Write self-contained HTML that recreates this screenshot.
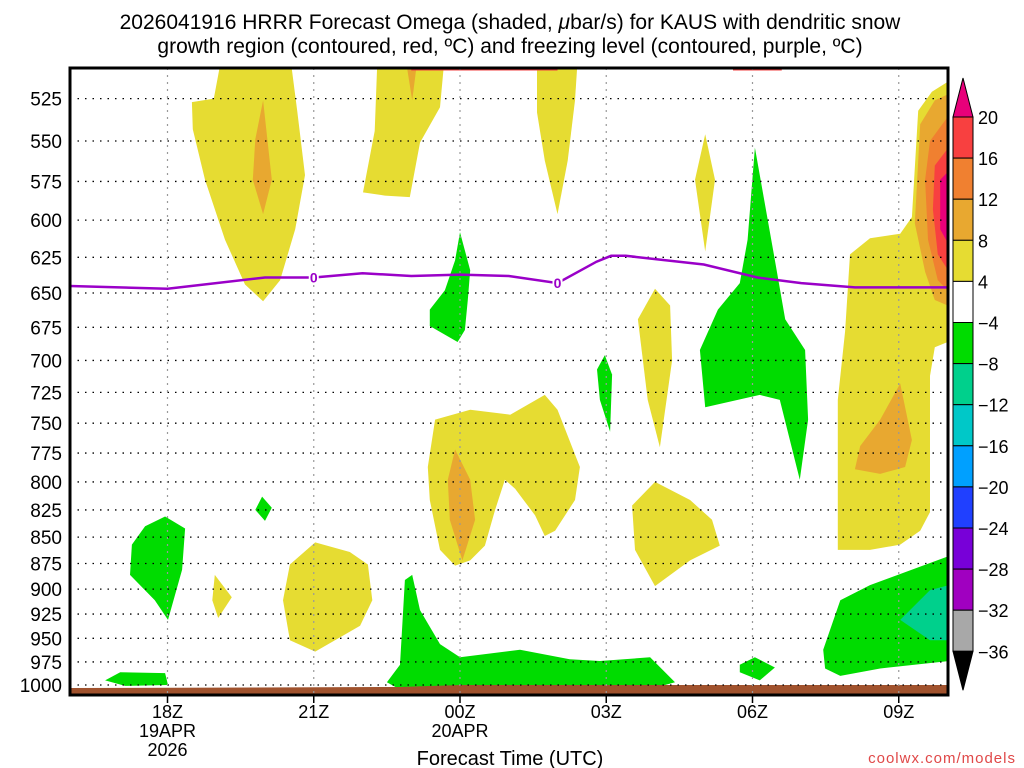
<!DOCTYPE html>
<html><head><meta charset="utf-8"><style>
html,body{margin:0;padding:0;background:#fff;}
svg{display:block;font-family:"Liberation Sans","DejaVu Sans",sans-serif;}
</style></head><body>
<svg id="chart" width="1024" height="768" viewBox="0 0 1024 768" xmlns="http://www.w3.org/2000/svg">
<text x="510" y="29" font-size="21" text-anchor="middle" fill="#000">2026041916 HRRR Forecast Omega (shaded, <tspan font-style="italic">μ</tspan>bar/s) for KAUS with dendritic snow</text>
<text x="510" y="53" font-size="21" text-anchor="middle" fill="#000">growth region (contoured, red, ºC) and freezing level (contoured, purple, ºC)</text>
<defs><clipPath id="plotclip"><rect x="70" y="68" width="878" height="627"/></clipPath></defs>
<g id="fills" clip-path="url(#plotclip)"></g>
<g id="grid"></g>
<g id="fz" clip-path="url(#plotclip)"></g>
<rect x="70" y="68" width="878" height="627" fill="none" stroke="#000" stroke-width="3"/>
<g id="axes"></g>
<g id="cbar"></g>
<text x="510" y="765" font-size="20" text-anchor="middle">Forecast Time (UTC)</text>
<text x="1016" y="763" font-size="15" text-anchor="end" fill="#e04848" letter-spacing="1">coolwx.com/models</text>
</svg>
<script>
// axis data
const pTicks = [525,550,575,600,625,650,675,700,725,750,775,800,825,850,875,900,925,950,975,1000];
const tTicks = [2,5,8,11,14,17];
const tLabels = [["18Z","19APR","2026"],["21Z"],["00Z","20APR"],["03Z"],["06Z"],["09Z"]];
// freezing level (hours since 16Z, hPa)
const fzHours = [0,2,4,5,6,7,8,9,10,10.8,11.1,11.4,13,14.1,15,16.1,18];
const fzPres  = [645,647,639,639,636,638,637,638,643,628,624,624,630,639,643,646,646];
const fzLabelHours = [5,10];
// colorbar
const cbLevels = [20,16,12,8,4,-4,-8,-12,-16,-20,-24,-28,-32,-36];
const cbColors = ["#f84040","#f08030","#e8a830","#e6dc32","#ffffff","#00dc00","#00d08c","#00c8c8","#00a0ff","#2040ff","#7800d8","#a000c0","#a8a8a8"];
// shaded omega regions: [hour, pressure] polygons
const yellowRegions = [
 [[2.5,527],[2.95,525],[3.12,500],[4.51,500],[4.66,532],[4.82,571],[4.62,606],[4.31,641],[3.96,656],[3.59,644],[3.18,613],[2.77,574],[2.52,543]],
 [[6.01,582],[6.25,544],[6.31,500],[7.69,500],[7.59,530],[7.18,551],[6.97,585],[6.46,584]],
 [[9.58,500],[10.42,500],[10.36,526],[10.21,562],[10.0,596],[9.74,562],[9.58,533]],
 [[13.03,546],[13.23,574],[13.03,621],[12.82,574]],
 [[16.0,623],[16.41,612],[17.03,609],[17.27,598],[17.4,532],[17.68,521],[18.2,512],[18.2,683],[17.74,690],[17.64,712],[17.64,827],[17.44,844],[17.03,857],[16.41,862],[15.75,862],[15.75,731],[15.9,678]],
 [[12.0,647],[12.31,659],[12.35,700],[12.1,770],[11.85,731],[11.65,669]],
 [[7.34,787],[7.49,747],[8.21,739],[9.03,743],[9.74,727],[10.0,739],[10.46,787],[10.36,816],[9.95,844],[9.74,849],[9.54,830],[9.13,806],[8.92,798],[8.72,825],[8.51,858],[8.21,872],[7.9,877],[7.59,862],[7.38,816]],
 [[12.0,800],[12.72,816],[13.17,834],[13.33,858],[12.72,872],[12.0,897],[11.59,862],[11.53,821]],
 [[5.03,855],[5.74,864],[6.11,876],[6.2,911],[5.95,937],[5.03,964],[4.51,952],[4.37,911],[4.51,876]],
 [[2.97,886],[3.32,908],[3.04,929],[2.92,911]]
];
const orangeRegions = [
 [[3.96,526],[4.14,574],[3.96,596],[3.75,574],[3.8,549]],
 [[6.87,500],[7.14,500],[7.02,526]],
 [[17.44,540],[17.74,526],[18.2,520],[18.2,662],[17.74,655],[17.54,635],[17.33,602]],
 [[17.03,718],[17.27,764],[17.13,787],[16.62,793],[16.1,789],[16.21,769],[16.62,747]],
 [[7.9,772],[8.21,798],[8.31,834],[8.05,872],[7.79,834],[7.75,798]]
];
const orange12Regions = [[[17.64,550],[18.2,528],[18.2,655],[17.8,641],[17.6,613],[17.54,574]]];
const redRegions = [[[17.74,565],[18.2,547],[18.2,644],[17.8,623],[17.7,593]]];
const magentaRegions = [[[17.85,574],[18.2,563],[18.2,627],[17.85,606]]];
const greenRegions = [
 [[1.54,840],[1.95,831],[2.36,842],[2.3,881],[2.01,931],[1.74,911],[1.23,886],[1.27,857]],
 [[3.94,813],[4.14,823],[4.0,835],[3.8,825]],
 [[8.0,608],[8.21,634],[8.16,655],[8.1,677],[7.95,686],[7.38,674],[7.38,662],[7.69,648],[7.9,627]],
 [[10.97,696],[11.12,711],[11.08,757],[10.87,731],[10.81,707]],
 [[14.05,554],[14.46,627],[14.67,669],[15.08,692],[15.14,747],[14.97,798],[14.56,731],[14.15,727],[13.03,737],[12.92,692],[13.29,662],[13.74,643],[13.9,613]],
 [[6.5,997],[6.77,978],[6.87,891],[7.02,886],[7.18,921],[7.59,956],[8.0,970],[9.23,962],[10.25,972],[10.87,974],[11.9,970],[12.41,997],[12.0,1003],[6.77,1005]],
 [[0.72,995],[1.03,986],[1.95,987],[2.01,1000],[1.13,1001]],
 [[13.74,978],[14.05,970],[14.46,981],[14.15,995],[13.74,986]],
 [[15.45,962],[15.8,911],[16.41,896],[18.2,865],[18.2,973],[16.62,982],[15.8,990],[15.49,982]]
];
const tealRegions = [[[17.03,931],[17.64,901],[18.2,894],[18.2,952],[17.64,952]]];
const dgzHours = [[7.0,10.0],[13.6,14.6]];

const NS="http://www.w3.org/2000/svg";
const X0=70,PX=48.75,YB=685,YS=910;
function xS(h){return X0+h*PX;}
function yS(p){return YB-YS*Math.log(1000/p);}
function mk(tag,attrs,parent){const e=document.createElementNS(NS,tag);for(const k in attrs)e.setAttribute(k,attrs[k]);parent.appendChild(e);return e;}
const fills=document.getElementById('fills');
function drawRegions(list,color,name){
 list.forEach(poly=>{
  const e=mk('polygon',{points:poly.map(q=>xS(q[0]).toFixed(1)+','+yS(q[1]).toFixed(1)).join(' '),fill:color},fills);
  
  
 });
}
drawRegions(yellowRegions,"#e6dc32","omega-4-8-region");
drawRegions(orangeRegions,"#e8a830","omega-8-12-region");
drawRegions(orange12Regions,"#f08030","omega-12-16-region");
drawRegions(redRegions,"#f84040","omega-16-20-region");
drawRegions(magentaRegions,"#e8007a","omega-20-plus-region");
drawRegions(greenRegions,"#00dc00","omega-neg4-neg8-region");
drawRegions(tealRegions,"#00d08c","omega-neg8-neg12-region");
dgzHours.forEach(d=>{
 const e=mk('line',{x1:xS(d[0]),x2:xS(d[1]),y1:69,y2:69,stroke:"#f04040","stroke-width":3},fills);
 
 
});
const ground=mk('polygon',{points:"70,688 400,687 460,685 948,685 948,695 70,695",fill:"#a0522d"},fills);



const grid=document.getElementById('grid'),axes=document.getElementById('axes');
pTicks.forEach(p=>{
 const y=yS(p);
 const l=mk('line',{x1:70,x2:948,y1:y,y2:y,stroke:"#000","stroke-width":1.3,"stroke-dasharray":"1.5 6"},grid);
 
 
 const t=mk('text',{x:62,y:y+7,"font-size":19,"text-anchor":"end"},axes);
 t.textContent=p;
 
 
});
tTicks.forEach((h,i)=>{
 const x=xS(h);
 const l=mk('line',{x1:x,x2:x,y1:68,y2:695,stroke:"#999","stroke-width":1.2,"stroke-dasharray":"2 5"},grid);
 
 
 const tk=mk('line',{x1:x,x2:x,y1:695,y2:703,stroke:"#000","stroke-width":1.5},axes);
 
 
 tLabels[i].forEach((s,j)=>{
  const t=mk('text',{x:x,y:718+j*19,"font-size":18,"text-anchor":"middle"},axes);
  t.textContent=s;
  
  
 });
});
const fz=document.getElementById('fz');
const pl=mk('polyline',{points:fzHours.map((h,i)=>xS(h).toFixed(1)+','+yS(fzPres[i]).toFixed(1)).join(' '),fill:"none",stroke:"#9a00c8","stroke-width":2.5},fz);


fzLabelHours.forEach(h=>{
 let i=0;while(i<fzHours.length-2&&fzHours[i+1]<h)i++;
 const f=(h-fzHours[i])/(fzHours[i+1]-fzHours[i]);
 const p=fzPres[i]+f*(fzPres[i+1]-fzPres[i]);
 const x=xS(h),y=yS(p);
 const r=mk('rect',{x:x-5,y:y-7,width:10,height:14,fill:"#fff"},fz);
 
 
 const t=mk('text',{x:x,y:y+5,"font-size":14,"font-weight":"bold","text-anchor":"middle",fill:"#9a00c8"},fz);
 t.textContent="0";
 
 
});
const cb=document.getElementById('cbar');
const CX=953,CW=20,CT=117,CH=41.1;
const cbTop=mk('polygon',{points:`${CX},${CT} ${CX+CW},${CT} ${CX+CW/2},${CT-39}`,fill:"#e8007a",stroke:"#000"},cb);


cbColors.forEach((c,i)=>{
 const r=mk('rect',{x:CX,y:CT+i*CH,width:CW,height:CH,fill:c,stroke:"#000","stroke-width":1},cb);
 
 
});
const yb=CT+cbColors.length*CH;
const cbBot=mk('polygon',{points:`${CX},${yb} ${CX+CW},${yb} ${CX+CW/2},${yb+39}`,fill:"#000",stroke:"#000"},cb);


cbLevels.forEach((v,i)=>{
 const t=mk('text',{x:978,y:CT+i*CH+7,"font-size":18},cb);
 t.textContent=v<0?"−"+(-v):String(v);
 
 
});
</script>
</body></html>
